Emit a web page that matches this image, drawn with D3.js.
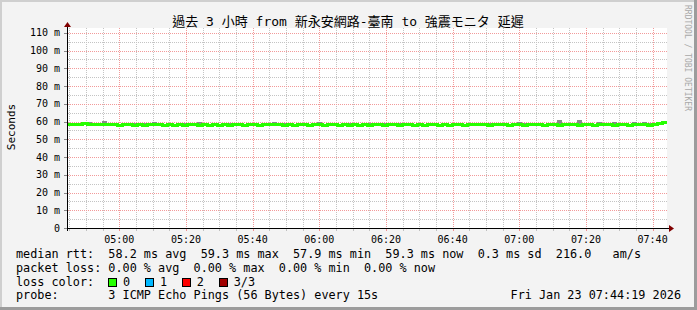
<!DOCTYPE html>
<html><head><meta charset="utf-8">
<script src="https://cdn.jsdelivr.net/npm/d3@7"></script>
<style>
html,body{margin:0;padding:0;background:#f3f3f3;}
svg{display:block;}
text{white-space:pre;}
</style></head>
<body>
<svg id="c" width="697" height="310"></svg>
<script>
// ---------- data ----------
const title = "過去 3 小時 from 新永安網路-臺南 to 強震モニタ 延遲";
const yTickValues = [0,10,20,30,40,50,60,70,80,90,100,110];
const yTickLabels = ["0","10 m","20 m","30 m","40 m","50 m","60 m","70 m","80 m","90 m","100 m","110 m"];
const startTime = new Date(2026,0,23,4,44,19);
const endTime = new Date(2026,0,23,7,44,19);
const stepSeconds = 90;
// median rtt (ms)
const median = [58.4,58.5,58.3,58.6,58.2,58.5,58.3,58.4,58.2,58.1,
 58.0,58.1,58.2,58.0,58.1,58.0,58.2,58.1,58.3,58.0,
 58.1,58.0,58.2,58.0,58.1,58.3,58.0,58.1,58.0,58.2,
 58.0,58.1,58.0,58.2,58.1,58.0,58.3,58.1,58.0,58.2,
 58.3,58.4,58.1,58.0,58.2,58.0,58.1,58.3,58.0,58.1,
 58.2,58.0,58.3,58.1,58.0,58.2,58.0,58.1,57.9,58.1,
 58.0,58.2,58.1,58.0,58.3,58.1,58.0,58.2,58.1,58.0,
 58.2,58.0,58.1,58.3,58.0,58.1,58.0,58.2,58.1,58.0,
 58.4,58.2,58.3,58.1,58.0,58.2,58.1,58.3,58.0,58.1,
 58.2,58.0,58.3,58.1,58.2,58.0,58.1,58.2,58.0,58.1,
 58.3,58.1,58.0,58.2,58.1,58.0,58.3,58.1,58.2,58.0,
 58.1,58.2,58.0,58.3,58.1,58.2,58.0,58.4,58.6,59.3];
// highest ping of each step (smoke top, ms)
const smokeHi = [59.2,58.8,59.4,58.9,59.9,59.1,58.6,60.1,59.3,58.4,
 58.6,59.2,58.5,59.0,58.4,59.1,58.5,59.6,58.6,58.3,
 59.1,58.4,58.5,59.2,58.5,59.4,59.7,58.4,58.3,59.0,
 58.3,58.4,59.1,58.5,58.4,58.3,59.2,58.4,58.3,58.5,
 59.0,59.6,58.4,59.3,58.5,58.3,59.4,58.6,58.3,59.1,
 59.5,58.3,58.6,59.0,58.3,58.5,59.2,58.4,58.2,58.4,
 59.0,58.5,59.3,59.2,58.6,58.4,59.1,58.5,59.3,58.3,
 59.2,58.3,59.0,58.6,58.3,59.2,58.3,58.5,59.1,58.3,
 59.3,58.5,59.1,58.4,59.2,58.5,58.4,59.3,58.3,58.4,
 59.8,59.4,58.6,59.2,59.0,58.3,59.3,58.5,61.0,59.2,
 58.6,59.3,61.0,58.5,59.2,58.3,59.6,58.4,59.3,59.9,
 58.4,59.3,58.3,59.5,58.4,59.7,59.2,58.7,59.8,59.6];
const legendLines = [
  "median rtt:  58.2 ms avg  59.3 ms max  57.9 ms min  59.3 ms now  0.3 ms sd  216.0   am/s",
  "packet loss: 0.00 % avg  0.00 % max  0.00 % min  0.00 % now"
];
const lossLabels = ["0","1","2","3/3"];
const lossColors = ["#26ff00","#00b8ff","#ff0000","#a10000"];
const probeText = "probe:       3 ICMP Echo Pings (56 Bytes) every 15s";
const dateText = "Fri Jan 23 07:44:19 2026";

// ---------- layout ----------
const W = 697, H = 310;
const L = 67, R = 667, T = 28, B = 228;
const mono = "'DejaVu Sans Mono', monospace";
const svg = d3.select("#c");

// dotted patterns (1px on / 1px off)
const defs = svg.append("defs");
function pat(id, w, h, color){
  const p = defs.append("pattern").attr("id",id).attr("patternUnits","userSpaceOnUse")
    .attr("x",0).attr("y",0).attr("width",w).attr("height",h);
  p.append("rect").attr("x",0).attr("y",0).attr("width",1).attr("height",1).attr("fill",color);
}
pat("vMinor",1,2,"#c4c4c4");
pat("hMinor",2,1,"#c4c4c4");
pat("vMajor",1,2,"#f29a9a");
pat("hMajor",2,1,"#f29a9a");

// frame
svg.append("rect").attr("x",0).attr("y",0).attr("width",W).attr("height",H).attr("fill","#f3f3f3");
svg.append("rect").attr("x",0).attr("y",0).attr("width",W).attr("height",2).attr("fill","#cfcfcf");
svg.append("rect").attr("x",0).attr("y",0).attr("width",2).attr("height",H).attr("fill","#cfcfcf");
svg.append("rect").attr("x",0).attr("y",H-3).attr("width",W).attr("height",3).attr("fill","#9c9c9c");
svg.append("rect").attr("x",W-3).attr("y",0).attr("width",3).attr("height",H).attr("fill","#9c9c9c");

const x = d3.scaleTime().domain([startTime,endTime]).range([L,R]);
const y = d3.scaleLinear().domain([0,(B-T)/1.775]).range([B,T]);

// plot background
svg.append("rect").attr("x",L).attr("y",T).attr("width",R-L).attr("height",B-T).attr("fill","#ffffff");

const g = svg.append("g").attr("shape-rendering","crispEdges");
const allX = d3.timeMinute.every(5).range(startTime,endTime);
const majorX = allX.filter(d=>d.getMinutes()%20===0);
const minorX = allX.filter(d=>d.getMinutes()%20!==0);
const minorY = d3.range(5,(B-T)/1.775,10);
const rp = v => Math.round(v);
// minor grid
g.selectAll(".mx").data(minorX).join("rect")
  .attr("x",d=>rp(x(d))).attr("width",1).attr("y",T).attr("height",B-T).attr("fill","url(#vMinor)");
g.selectAll(".my").data(minorY).join("rect")
  .attr("y",d=>rp(y(d))).attr("height",1).attr("x",L).attr("width",R-L).attr("fill","url(#hMinor)");
// major grid
g.selectAll(".Mx").data(majorX).join("rect")
  .attr("x",d=>rp(x(d))).attr("width",1).attr("y",T).attr("height",B-T).attr("fill","url(#vMajor)");
g.selectAll(".My").data(yTickValues.slice(1)).join("rect")
  .attr("y",d=>rp(y(d))).attr("height",1).attr("x",L).attr("width",R-L).attr("fill","url(#hMajor)");

// data
const pts = median.map((m,i)=>({t:new Date(startTime.getTime()+i*stepSeconds*1000), m, hi:smokeHi[i]}));
pts.push({t:endTime, m:median[median.length-1], hi:smokeHi[smokeHi.length-1]});
const area = d3.area().curve(d3.curveStepAfter).x(d=>x(d.t)).y0(d=>y(d.m)).y1(d=>y(d.hi));
svg.append("path").datum(pts).attr("d",area).attr("fill","#8a8a8a").attr("shape-rendering","crispEdges");
const line = d3.line().curve(d3.curveStepAfter).x(d=>x(d.t)).y(d=>y(d.m));
svg.append("path").datum(pts).attr("d",line).attr("fill","none").attr("stroke",lossColors[0])
  .attr("stroke-width",3).attr("shape-rendering","crispEdges");

// axes
const ax = svg.append("g").attr("shape-rendering","crispEdges");
ax.append("rect").attr("x",L-3).attr("width",R+2-(L-3)).attr("y",B).attr("height",1).attr("fill","#000");
ax.append("rect").attr("x",L).attr("width",1).attr("y",T-1).attr("height",B+3-(T-1)).attr("fill","#000");
svg.append("path").attr("d",`M${R+2},${B-3}L${R+7},${B+0.5}L${R+2},${B+4}Z`).attr("fill","#800000");
svg.append("path").attr("d",`M${L-3},${T-1}L${L+0.5},${T-6}L${L+4},${T-1}Z`).attr("fill","#800000");
// ticks
ax.selectAll(".tx").data(minorX).join("rect")
  .attr("x",d=>rp(x(d))).attr("width",1).attr("y",B+1).attr("height",2).attr("fill","#c0c0c0");
ax.selectAll(".tX").data(majorX).join("rect")
  .attr("x",d=>rp(x(d))).attr("width",1).attr("y",B+1).attr("height",2).attr("fill","#f09090");
ax.selectAll(".ty").data(yTickValues).join("rect")
  .attr("y",d=>rp(y(d))).attr("height",1).attr("x",L-3).attr("width",3).attr("fill","#888");

const fmt = d3.timeFormat("%H:%M");
svg.selectAll(".xl").data(majorX).join("text")
  .attr("x",d=>x(d)).attr("y",243).attr("text-anchor","middle")
  .attr("font-family",mono).attr("font-size",10).attr("fill","#000").text(d=>fmt(d));
svg.selectAll(".yl").data(yTickValues).join("text")
  .attr("x",60).attr("y",d=>y(d)+3.5).attr("text-anchor","end")
  .attr("font-family",mono).attr("font-size",10).attr("fill","#000").text((d,i)=>yTickLabels[i]);

// title
svg.append("text").attr("x",348).attr("y",26).attr("text-anchor","middle")
  .attr("font-family","'DejaVu Sans Mono','Noto Sans CJK TC',monospace").attr("font-size",13)
  .attr("fill","#000").text(title);
// y label
svg.append("text").attr("transform","translate(15,127) rotate(-90)").attr("text-anchor","middle")
  .attr("font-family",mono).attr("font-size",11).attr("fill","#000").text("Seconds");
// watermark
svg.append("text").attr("transform","translate(685,5) rotate(90)").attr("text-anchor","start")
  .attr("font-family",mono).attr("font-size",8).attr("fill","#a8a8a8").text("RRDTOOL / TOBI OETIKER");

// legend
const lf = 11.8;
legendLines.forEach((s,i)=>{
  svg.append("text").attr("x",16).attr("y",258+i*13.7).attr("font-family",mono).attr("font-size",lf)
    .attr("fill","#000").text(s);
});
svg.append("text").attr("x",16).attr("y",285.5).attr("font-family",mono).attr("font-size",lf).attr("fill","#000").text("loss color:");
lossLabels.forEach((s,i)=>{
  const bx = 108.5 + i*36.9;
  svg.append("rect").attr("x",bx).attr("y",278.5).attr("width",8).attr("height",8)
    .attr("fill",lossColors[i]).attr("stroke","#000").attr("stroke-width",1).attr("shape-rendering","crispEdges");
  svg.append("text").attr("x",bx+14.5).attr("y",285.5).attr("font-family",mono).attr("font-size",lf).attr("fill","#000").text(s);
});
svg.append("text").attr("x",16).attr("y",299).attr("font-family",mono).attr("font-size",lf).attr("fill","#000").text(probeText);
svg.append("text").attr("x",681).attr("y",299).attr("text-anchor","end").attr("font-family",mono).attr("font-size",lf).attr("fill","#000").text(dateText);
</script>
</body></html>
